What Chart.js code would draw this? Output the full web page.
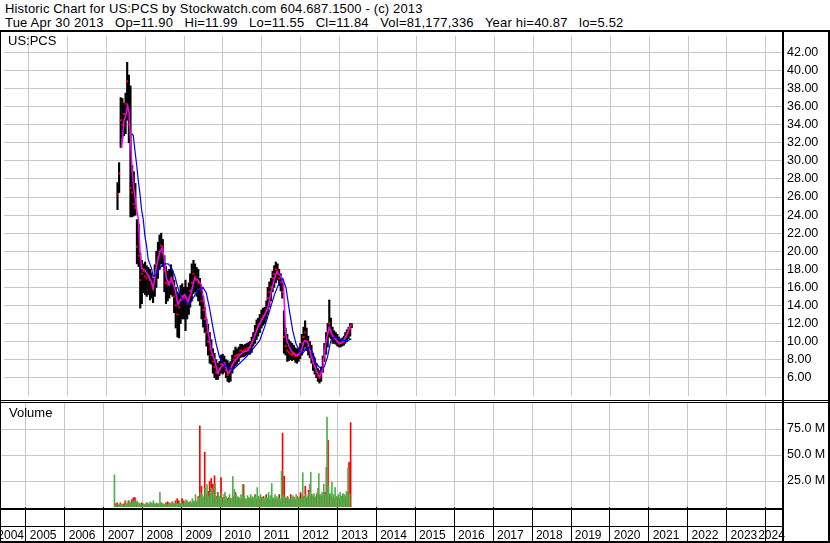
<!DOCTYPE html>
<html><head><meta charset="utf-8">
<script src="https://cdn.jsdelivr.net/npm/chart.js@4.4.1/dist/chart.umd.min.js"></script>
<style>
html,body{margin:0;padding:0;background:#fff;}
#wrap{position:relative;width:830px;height:543px;overflow:hidden;font-family:"Liberation Sans",Arial,sans-serif;color:#000;background:#fff;}
.hdr{position:absolute;left:5px;font-size:13px;line-height:14px;white-space:pre;}
.lbl{position:absolute;font-size:13px;line-height:14px;white-space:pre;}
canvas{position:absolute;left:0;}
.ln{position:absolute;background:#000;}
</style></head><body>
<div id="wrap">
<div class="hdr" style="top:2px;letter-spacing:0.15px">Historic Chart for US:PCS by Stockwatch.com 604.687.1500 - (c) 2013</div>
<div class="hdr" style="top:16px;letter-spacing:0.2px">Tue Apr 30 2013   Op=11.90   Hi=11.99   Lo=11.55   Cl=11.84   Vol=81,177,336   Year hi=40.87   lo=5.52</div>
<canvas id="price" width="830" height="368" style="top:32px"></canvas>
<canvas id="vol" width="830" height="140" style="top:403px"></canvas>
<div class="lbl" style="left:8px;top:34px">US:PCS</div>
<div class="lbl" style="left:9px;top:406px">Volume</div>
<div class="ln" style="left:0;top:30px;width:830px;height:2px"></div>
<div class="ln" style="left:0;top:30px;width:1px;height:513px"></div>
<div class="ln" style="left:0;top:400px;width:830px;height:1px"></div>
<div class="ln" style="left:0;top:402px;width:830px;height:1px"></div>
<div class="ln" style="left:782px;top:30px;width:2px;height:513px"></div>
<div class="ln" style="left:828px;top:30px;width:2px;height:513px"></div>
<div class="ln" style="left:0;top:508px;width:782px;height:2px"></div>
<div class="ln" style="left:0;top:526px;width:782px;height:1px"></div>
<div class="ln" style="left:0;top:541px;width:830px;height:2px"></div>
</div>
<script>
// ---- data ----
const months = ['2007-04','2007-05','2007-06','2007-07','2007-08','2007-09','2007-10','2007-11','2007-12',
'2008-01','2008-02','2008-03','2008-04','2008-05','2008-06','2008-07','2008-08','2008-09','2008-10','2008-11','2008-12',
'2009-01','2009-02','2009-03','2009-04','2009-05','2009-06','2009-07','2009-08','2009-09','2009-10','2009-11','2009-12',
'2010-01','2010-02','2010-03','2010-04','2010-05','2010-06','2010-07','2010-08','2010-09','2010-10','2010-11','2010-12',
'2011-01','2011-02','2011-03','2011-04','2011-05','2011-06','2011-07','2011-08','2011-09','2011-10','2011-11','2011-12',
'2012-01','2012-02','2012-03','2012-04','2012-05','2012-06','2012-07','2012-08','2012-09','2012-10','2012-11','2012-12',
'2013-01','2013-02','2013-03','2013-04'];

const highs = [27.6,29.8,37.0,36.9,36.4,37.5,40.9,39.5,38.3,29.5,
 28.8,27.5,23.5,23.0,19.8,19.0,18.6,18.8,18.4,18.2,
 18.0,17.6,17.0,18.5,20.0,21.0,21.8,22.0,21.3,19.5,
 18.3,17.8,18.0,18.5,17.8,16.8,16.0,15.5,15.3,16.2,
 16.4,16.0,16.8,16.0,16.5,17.5,18.6,19.0,18.6,18.2,
 18.0,17.0,16.0,15.0,13.8,12.5,11.9,11.0,10.2,9.2,
 8.7,8.0,7.6,7.8,8.5,8.6,8.4,8.0,7.9,7.6,
 7.8,8.5,9.0,9.4,9.2,9.4,9.7,9.7,9.6,9.7,
 9.8,9.9,10.0,10.5,11.0,11.8,12.4,12.6,13.0,13.5,
 13.7,13.8,14.5,16.0,16.6,17.0,17.8,18.4,18.8,18.6,
 18.0,17.5,16.8,13.4,11.5,10.8,10.2,10.0,9.8,9.6,
 9.3,9.2,9.3,9.8,10.8,11.6,12.3,11.5,10.6,10.0,
 9.6,8.7,8.2,7.6,7.0,6.8,7.2,8.4,9.8,11.0,
 12.0,14.6,12.6,11.6,11.2,11.0,10.8,10.5,10.3,10.4,
 10.6,11.0,11.3,11.6,12.0,11.99];
const lows = [24.6,26.5,31.5,32.5,32.8,33.0,34.5,32.0,23.8,23.8,
 23.9,24.0,18.6,18.3,13.7,14.2,15.4,15.2,15.0,15.2,
 14.6,14.8,14.3,15.0,16.0,17.0,18.0,18.6,18.3,15.5,
 14.2,14.5,14.8,15.2,15.0,13.2,11.5,10.5,10.4,12.0,
 12.5,12.5,11.2,12.5,13.0,13.8,14.5,15.3,15.5,15.0,
 14.5,14.0,12.5,11.6,11.0,9.5,8.5,7.6,7.5,6.5,
 6.0,5.8,5.8,6.2,6.5,6.4,6.6,6.0,5.6,5.5,
 5.6,6.5,7.0,7.3,7.5,7.8,8.2,8.3,8.3,8.4,
 8.5,8.6,8.6,8.8,9.5,9.8,10.2,10.6,11.0,11.5,
 11.8,12.0,12.5,13.0,13.8,14.5,15.5,16.0,16.5,16.8,
 16.2,15.6,14.8,8.7,8.5,7.8,7.9,8.0,7.9,8.0,
 7.7,7.6,7.8,8.1,8.5,9.0,9.4,9.0,8.5,8.2,
 7.6,6.8,6.4,6.0,5.6,5.4,5.6,6.6,7.8,8.6,
 9.4,10.5,10.3,9.8,9.8,9.7,9.5,9.4,9.4,9.5,
 9.6,9.8,10.0,10.3,10.6,11.55];
const closes = [26.3,28.6,34.5,34.0,35.2,36.3,38.8,34.0,27.0,26.5,
 25.2,24.8,20.5,19.5,16.8,17.5,17.8,17.2,17.0,17.3,
 16.8,16.3,15.8,17.0,18.5,19.3,20.0,20.6,19.8,17.8,
 16.5,16.3,16.6,17.0,16.5,15.0,14.0,13.0,13.8,14.6,
 15.0,14.8,15.0,14.2,14.8,15.6,16.5,17.5,17.2,16.8,
 16.5,15.8,14.5,13.5,12.5,11.0,10.0,9.2,8.5,7.8,
 7.2,6.6,6.5,7.0,7.5,7.4,7.6,6.8,6.3,6.5,
 6.8,7.5,8.0,8.4,8.5,8.6,9.0,9.0,8.9,9.1,
 9.2,9.3,9.4,9.8,10.2,10.8,11.3,11.8,12.0,12.5,
 12.8,13.0,13.5,14.8,15.5,16.0,17.0,17.5,18.0,17.8,
 17.0,16.6,15.5,10.5,9.5,9.0,8.8,8.6,8.5,8.7,
 8.4,8.4,8.5,9.0,9.8,10.5,11.0,10.0,9.5,9.0,
 8.3,7.6,7.2,6.6,6.2,6.0,6.6,7.8,9.0,10.2,
 11.0,12.0,11.2,10.6,10.4,10.3,10.0,9.8,9.9,9.9,
 10.1,10.5,10.8,11.0,11.4,11.84];

// volume in millions of shares
const volUp = [31,2,1,2,3,1,2,5,3,6,
 4,5,6,5,6,4,3,2,3,2,
 4,3,5,4,6,3,4,3,14,4,
 3,2,3,2,4,3,4,3,4,3,
 5,4,3,5,7,6,4,5,8,6,
 12,6,9,14,12,10,18,21.6,10,14,
 18,12,22,9,13,10,13,8,14,10,
 7,12,8,29.3,17,12,10,9,12,21.6,
 10,8,11,9,12,10,9,11,18.7,10,
 12,9,8,10,9,14,11,22.6,9,12,
 10,9,8,34.4,12,10,8,9,7,10,
 11,8,12,9,10,8,33,9,12,10,
 14,33.5,11,13,10,14,32.2,12,14,22,
 12,86.5,20,13,23.8,12,18.7,10,12,14,
 10,13,12,15,38,12];
const volDown = [3,4,2,4,2,3,6,3,6,4,
 7,9,9,4,3,2,4,3,2,4,
 3,2,3,2,3,2,3,2,4,3,
 2,4,5,4,3,5,3,6,8,6,
 3,8,6,4,5,4,5,3,5,4,
 5,10,78,20,8,52.7,12,15,24.8,27.4,
 22,30,10,14,10,28.4,9,12,6,8,
 9,8,6,10,14,7,8,6,8,21.6,
 7,6,8,6,8,7,12,8,10,7,
 9,10,7,12,8,7,10,8,7,8,
 7,12,6,71,29.6,8,10,7,12,8,
 9,7,10,8,14,12,10,20,8,16,
 22,12,10,9,12,18,12,10,9,14,
 38,64,12,10,9,8,10,9,8,10,
 12,9,10,14,43,81.2];

// moving averages (decimal year, price)
const maShortT = [2007.393,2007.419,2007.453,2007.496,2007.547,2007.581,2007.607,2007.632,2007.658,2007.692,
 2007.735,2007.778,2007.821,2007.863,2007.906,2007.991,2008.077,2008.162,2008.205,2008.291,
 2008.376,2008.444,2008.487,2008.547,2008.615,2008.675,2008.761,2008.846,2008.932,2009.017,
 2009.103,2009.188,2009.274,2009.359,2009.444,2009.530,2009.615,2009.701,2009.786,2009.872,
 2009.957,2010.043,2010.128,2010.179,2010.265,2010.393,2010.521,2010.650,2010.778,2010.906,
 2011.034,2011.162,2011.248,2011.333,2011.393,2011.504,2011.564,2011.615,2011.650,2011.718,
 2011.803,2011.932,2012.017,2012.103,2012.188,2012.274,2012.359,2012.444,2012.504,2012.573,
 2012.641,2012.701,2012.744,2012.812,2012.897,2013.000,2013.085,2013.171,2013.256,2013.299];
const maShortV = [31.4,32.9,34.5,35.0,36.1,35.4,33.3,31.4,29.2,27.4,
 26.0,24.6,23.6,20.2,18.1,17.9,17.3,16.6,15.9,18.4,
 19.9,20.4,19.3,17.0,16.3,17.0,15.9,14.1,14.8,15.2,
 14.4,15.5,17.0,16.8,16.3,14.1,11.2,9.0,7.95,6.5,
 7.2,7.6,6.5,6.7,7.6,8.3,8.85,9.0,10.1,11.6,
 12.6,13.7,15.5,17.0,17.7,17.2,16.3,11.2,10.1,9.4,
 8.7,8.5,8.85,10.1,10.0,8.5,7.4,6.5,6.1,6.9,
 9.4,10.8,11.6,10.8,10.3,9.75,9.9,10.5,11.4,11.8];
const maLongT = [2007.650,2007.692,2007.735,2007.778,2007.821,2007.863,2007.906,2007.949,2007.991,2008.034,
 2008.077,2008.162,2008.205,2008.291,2008.376,2008.462,2008.590,2008.675,2008.761,2008.846,
 2008.932,2009.060,2009.145,2009.231,2009.359,2009.487,2009.573,2009.658,2009.744,2009.829,
 2009.915,2010.043,2010.171,2010.265,2010.436,2010.607,2010.778,2010.949,2011.077,2011.205,
 2011.333,2011.462,2011.547,2011.632,2011.718,2011.803,2011.889,2011.974,2012.060,2012.145,
 2012.231,2012.316,2012.402,2012.530,2012.615,2012.701,2012.786,2012.872,2012.957,2013.085,
 2013.214,2013.316];
const maLongV = [33.0,32.8,31.1,29.6,27.8,26.4,24.6,23.5,21.7,20.6,
 19.1,18.1,17.2,17.5,18.1,18.6,18.6,18.2,17.3,15.9,
 14.8,14.3,14.1,14.8,15.7,16.0,15.4,13.7,11.6,9.75,
 8.3,7.4,7.05,6.9,7.6,8.3,9.2,10.1,11.6,13.4,
 15.2,16.6,17.0,15.9,13.4,11.2,9.75,9.0,8.7,9.2,
 9.4,8.85,7.6,7.0,7.2,8.3,10.1,10.5,10.4,10.1,
 10.1,10.3];

const yearTicks = [2005,2006,2007,2008,2009,2010,2011,2012,2013,2014,2015,2016,2017,2018,2019,2020,2021,2022,2023,2024];
const yearLabels = ['2004','2005','2006','2007','2008','2009','2010','2011','2012','2013','2014','2015','2016','2017','2018','2019','2020','2021','2022','2023','2024'];
const priceTicks = [6,8,10,12,14,16,18,20,22,24,26,28,30,32,34,36,38,40,42];
const volTicks = [25,50,75];

// ---- helpers ----
function decYear(y, m, d) {
  const s = Date.UTC(y, 0, 1), e = Date.UTC(y + 1, 0, 1);
  return y + (Date.UTC(y, m - 1, d) - s) / (e - s);
}
const dates = [];
months.forEach(s => {
  const [y, m] = s.split('-').map(Number);
  const last = new Date(Date.UTC(y, m, 0)).getUTCDate();
  dates.push(decYear(y, m, 15), decYear(y, m, last));
});

const FONT = '"Liberation Sans", Arial, sans-serif';
Chart.defaults.font.family = FONT;
Chart.defaults.font.size = 12;
Chart.defaults.color = '#000';

const X_MIN = 2004.358, X_MAX = 2024.42;
const GRID = '#c8c8c8';

const xCommon = {
  type: 'linear', min: X_MIN, max: X_MAX, offset: false,
  border: { display: false },
  ticks: { display: false },
  afterBuildTicks: a => { a.ticks = yearTicks.map(v => ({ value: v })); }
};

new Chart(document.getElementById('price'), {
  type: 'bar',
  data: { datasets: [
    { type: 'line', label: 'Long MA', data: maLongT.map((t, i) => ({ x: t, y: maLongV[i] })),
      borderColor: '#0000ff', borderWidth: 1.2, pointRadius: 0, tension: 0, order: 0 },
    { type: 'line', label: 'Short MA', data: maShortT.map((t, i) => ({ x: t, y: maShortV[i] })),
      borderColor: '#ff00ff', borderWidth: 1.5, pointRadius: 0, tension: 0, order: 1 },
    { type: 'line', label: 'Close', data: dates.map((t, i) => ({ x: t, y: closes[i] })),
      showLine: false, pointStyle: 'rect', pointRadius: 1.4, pointBackgroundColor: '#ff0000',
      pointBorderWidth: 0, order: 2 },
    { type: 'bar', label: 'High-Low', data: dates.map((t, i) => ({ x: t, y: [lows[i], highs[i]] })),
      backgroundColor: '#000000', barThickness: 1.5, order: 3 }
  ]},
  options: {
    responsive: false, animation: false, events: [], devicePixelRatio: 1,
    layout: { padding: { left: 1, right: 0, top: 0, bottom: 0 } },
    plugins: { legend: { display: false }, tooltip: { enabled: false } },
    scales: {
      x: Object.assign({}, xCommon, {
        grid: { color: GRID, offset: false, drawTicks: false },
        afterFit: a => { a.height = 0; a.paddingLeft = 0; a.paddingRight = 0; }
      }),
      y: {
        type: 'linear', position: 'right', min: 3.975, max: 43.82,
        grid: { color: GRID, drawTicks: false },
        border: { display: false },
        ticks: { padding: 5, color: '#000', font: { size: 12.5 }, callback: v => v.toFixed(2) },
        afterBuildTicks: a => { a.ticks = priceTicks.map(v => ({ value: v })); },
        afterFit: a => { a.width = 48; a.paddingTop = 0; a.paddingBottom = 0; }
      }
    }
  }
});

const yearLabelPlugin = {
  id: 'yearLabels',
  afterDraw(chart) {
    const xs = chart.scales.x, ctx = chart.ctx, area = chart.chartArea;
    ctx.save();
    ctx.font = '12px ' + FONT;
    ctx.fillStyle = '#000';
    ctx.textAlign = 'center';
    ctx.textBaseline = 'alphabetic';
    yearLabels.forEach(lbl => {
      const y0 = Number(lbl);
      const a = Math.max(xs.getPixelForValue(y0), 0);
      const b = Math.min(xs.getPixelForValue(y0 + 1), area.right);
      ctx.fillText(lbl, (a + b) / 2 - 2.3, 136);
    });
    ctx.restore();
  }
};

new Chart(document.getElementById('vol'), {
  type: 'bar',
  data: { datasets: [
    { label: 'Volume up', data: dates.map((t, i) => ({ x: t, y: volUp[i] })),
      backgroundColor: '#4cb34c', barThickness: 1 },
    { label: 'Volume down', data: dates.map((t, i) => ({ x: t, y: volDown[i] })),
      backgroundColor: '#ff0000', barThickness: 1 }
  ]},
  options: {
    responsive: false, animation: false, events: [], devicePixelRatio: 1,
    layout: { padding: { left: 1, right: 0, top: 0, bottom: 0 } },
    plugins: { legend: { display: false }, tooltip: { enabled: false } },
    scales: {
      x: Object.assign({}, xCommon, {
        grid: { color: GRID, offset: false, drawTicks: true, tickLength: 35, tickColor: '#000' },
        afterFit: a => { a.height = 36; a.paddingLeft = 0; a.paddingRight = 0; }
      }),
      y: {
        type: 'linear', position: 'right', min: 0, max: 100,
        grid: { color: GRID, drawTicks: false },
        border: { display: false },
        ticks: { padding: 5, color: '#000', font: { size: 12.5 }, callback: v => v.toFixed(1) + ' M' },
        afterBuildTicks: a => { a.ticks = volTicks.map(v => ({ value: v })); },
        afterFit: a => { a.width = 48; a.paddingTop = 0; a.paddingBottom = 0; }
      }
    }
  },
  plugins: [yearLabelPlugin]
});
</script>
</body></html>
